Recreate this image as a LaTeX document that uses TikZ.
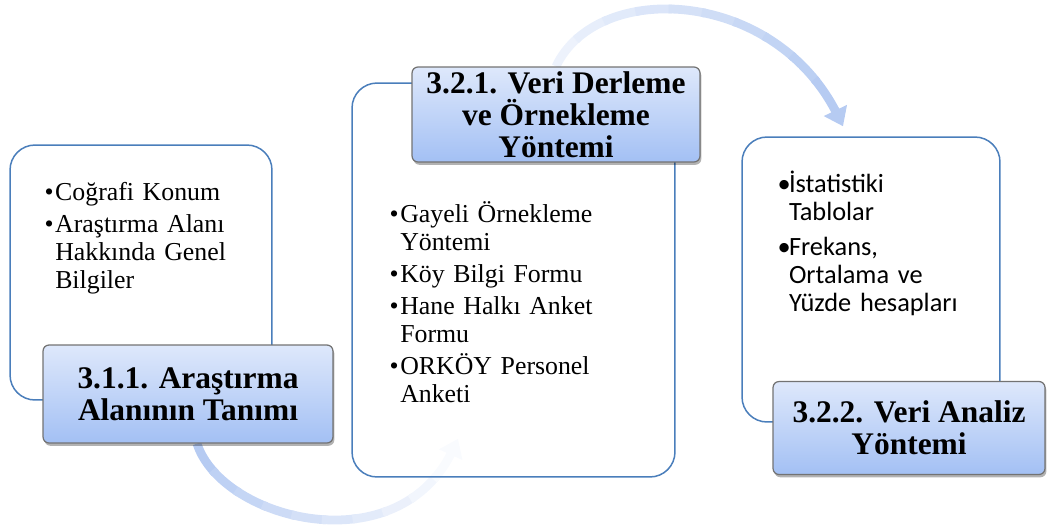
\documentclass[tikz,border=0pt]{standalone}
\usepackage{fontspec}
\setmainfont{Liberation Serif}
\newfontfamily\calfont{Carlito}
\usetikzlibrary{arrows.meta,shadows,calc}
\pgfdeclarelayer{background}
\pgfsetlayers{background,main}

\definecolor{kenar}{HTML}{4A7EBB}
\definecolor{baslikust}{HTML}{DEE8FB}
\definecolor{baslikalt}{HTML}{A3C0F4}
\definecolor{yay}{HTML}{B6CBF2}

\newlength{\madgen}
\newlength{\madek}
\setlength{\madek}{0.9pt}
\newcommand{\govde}{\fontsize{14.7}{15.8}\selectfont\lineskiplimit=-20pt\parskip=0pt}
\newcommand{\govdesans}{\calfont\fontsize{15}{16}\selectfont\lineskiplimit=-20pt\parskip=0pt\madek=-1pt}
\newcommand{\baslikyazi}{\fontsize{17.9}{18.3}\selectfont\bfseries}
% madde: kendi paragrafi, asili girinti; satir sonlari \newline ile
\newcommand{\madde}[1]{\raggedright\settowidth{\madgen}{\textbullet}\addtolength{\madgen}{\madek}%
	\hangindent=\madgen\hangafter=1\noindent
	\makebox[\madgen][l]{\textbullet}\rule{0pt}{13pt}#1\par}

\tikzset{
	kutu/.style={draw=kenar, line width=0.85pt, rounded corners=0.5cm},
	baslik/.style={draw=black!55, line width=0.7pt, rounded corners=0.12cm,
		top color=baslikust, bottom color=baslikalt, align=center,
		font=\baslikyazi, inner sep=0.5pt,
		drop shadow={shadow xshift=0.8pt, shadow yshift=-1.6pt, opacity=0.3, fill=black}},
	yazi/.style={anchor=north west, inner sep=0pt, font=\govde},
	yaykol/.style={line width=5pt, line cap=butt}
}

\begin{document}
\begin{tikzpicture}[x=0.02cm,y=-0.02cm]
	\useasboundingbox (0,0) rectangle (1047,528);
	% kutular
	\node[kutu, minimum width=5.24cm, minimum height=5.1cm] (b1) at (141,272.5) {};
	\node[kutu, minimum width=6.46cm, minimum height=7.88cm] (b2) at (513.5,280) {};
	\node[kutu, minimum width=5.16cm, minimum height=5.7cm] (b3) at (871,279.5) {};
	% basliklar
	\node[baslik, minimum width=5.8cm, minimum height=1.96cm] (t1) at (188,394)
		{3.1.1. Araştırma\\Alanının Tanımı};
	\node[baslik, minimum width=5.76cm, minimum height=1.9cm] (t2) at (556,114.5)
		{3.2.1. Veri Derleme\\ve Örnekleme\\Yöntemi};
	\node[baslik, minimum width=5.44cm, minimum height=1.86cm] (t3) at (909,428)
		{3.2.2. Veri Analiz\\Yöntemi};
	% maddeler
	\node[yazi, text width=4.4cm] (m1) at ([shift={(35,33)}]b1.north west)
		{\madde{Coğrafi Konum}\vspace{2.6pt}
		 \madde{Araştırma Alanı\newline Hakkında Genel\newline Bilgiler}};
	\node[yazi, text width=5.6cm] (m2) at ([shift={(38,117)}]b2.north west)
		{\madde{Gayeli Örnekleme\newline Yöntemi}\vspace{2.6pt}
		 \madde{Köy Bilgi Formu}\vspace{2.6pt}
		 \madde{Hane Halkı Anket\newline Formu}\vspace{2.6pt}
		 \madde{ORKÖY Personel\newline Anketi}};
	\node[yazi, font=\govdesans, text width=4.2cm] (m3) at ([shift={(36,33)}]b3.north west)
		{\madde{İstatistiki\newline Tablolar}\vspace{3.7pt}
		 \madde{Frekans,\newline Ortalama ve\newline Yüzde hesapları}};
	% oklar
	\coordinate (okucu) at ([shift={(-28,-10)}]b3.north);
	\coordinate (yaybas) at ([shift={(9,0)}]t1.south);
	\coordinate (yaysonu) at ([shift={(-55.5,-39)}]b2.south);
	\begin{pgfonlayer}{background}
		\foreach \k in {0,...,9}{
			\pgfmathsetmacro{\bas}{\k*19}
			\pgfmathtruncatemacro{\ton}{25+\k*75/9}
			\ifnum\k=9 \def\uz{1000}\else\def\uz{21}\fi
			\draw[yaykol, yay!\ton!white, shorten >=6pt,
				dash pattern=on 0pt off \bas pt on \uz pt off 1000pt]
				(t2.north) .. controls ($(t2.north)+(41,-87)$) and ($(okucu)+(-67,-139)$) .. (okucu);
		}
		\draw[yaykol, yay, dash pattern=on 0pt off 1000pt, -{Triangle[length=10pt,width=14pt]}]
			(t2.north) .. controls ($(t2.north)+(41,-87)$) and ($(okucu)+(-67,-139)$) .. (okucu);
		\foreach \k in {0,...,9}{
			\pgfmathsetmacro{\bas}{\k*17.5}
			\pgfmathtruncatemacro{\ton}{100-\k*92/9}
			\ifnum\k=9 \def\uz{1000}\else\def\uz{20}\fi
			\draw[yaykol, yay!\ton!white, shorten >=6pt,
				dash pattern=on 0pt off \bas pt on \uz pt off 1000pt]
				(yaybas) .. controls ($(yaybas)+(25,77)$) and ($(yaysonu)+(-58,127)$) .. (yaysonu);
		}
		\draw[yaykol, yay!8!white, dash pattern=on 0pt off 1000pt, -{Triangle[length=10pt,width=14pt]}]
			(yaybas) .. controls ($(yaybas)+(25,77)$) and ($(yaysonu)+(-58,127)$) .. (yaysonu);
	\end{pgfonlayer}
\end{tikzpicture}
\end{document}
